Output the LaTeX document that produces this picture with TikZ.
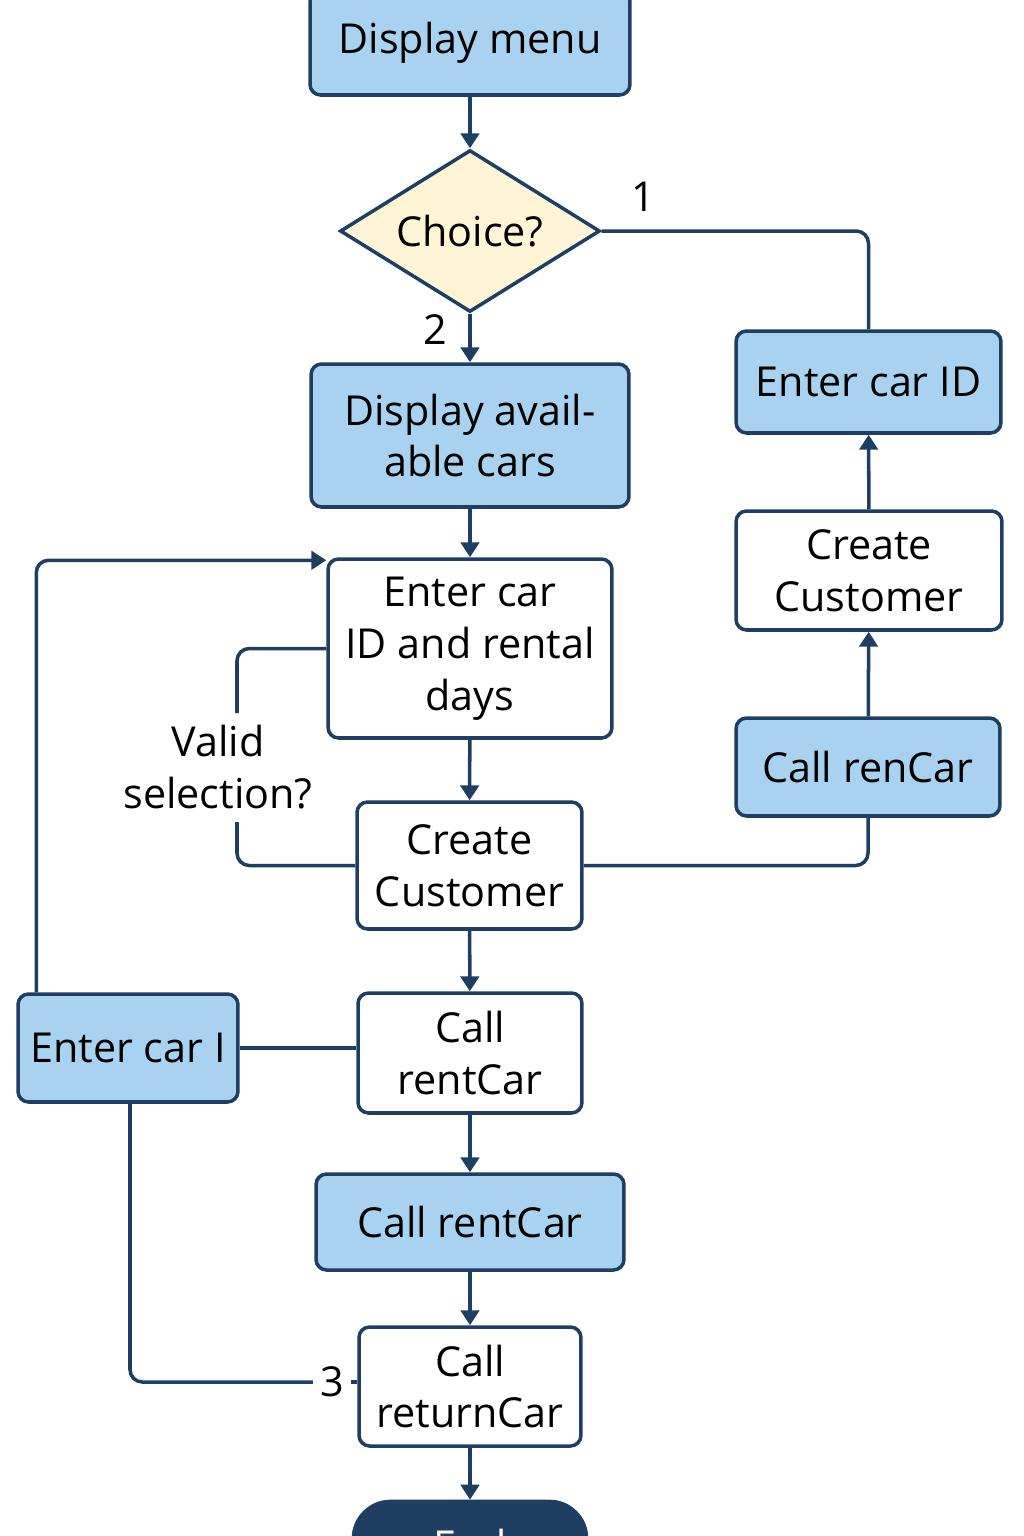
\documentclass[tikz,border=0pt]{standalone}
\usepackage{fontspec}
\setmainfont{Open Sans}
\usepackage{tikz}
\usepackage{xcolor}
\usetikzlibrary{calc,shapes.geometric,arrows.meta}

\definecolor{navy}{HTML}{1E3F62}
\definecolor{skyfill}{HTML}{A9D2F1}
\definecolor{cream}{HTML}{FFF5D6}

\begin{document}
\begin{tikzpicture}[x=0.02cm,y=-0.02cm]
        \tikzstyle{every node}=[font=\fontsize{23.5}{29.5}\selectfont, align=center, inner sep=0pt]
        \tikzstyle{box}=[draw=navy,line width=2pt,rounded corners=6pt,fill=white]
        \tikzstyle{bluebox}=[box,fill=skyfill]
        \tikzstyle{line}=[draw=navy,line width=2pt,rounded corners=7pt]
        \tikzstyle{arr}=[line,-{Triangle[length=8.5pt,width=10.5pt]}]
        \useasboundingbox (0,0) rectangle (1024,1536);

        \node[bluebox,minimum width=6.4cm,minimum height=2.08cm] (menu) at (470,43) {Display menu};
        \node[draw=navy,line width=2pt,fill=cream,diamond,aspect=1.6,minimum width=5.2cm,minimum height=3.24cm] (choice) at (470,231) {Choice?};
        \node[bluebox,minimum width=6.36cm,minimum height=2.86cm] (avail) at (470,435.5) {Display avail-\\able cars};
        \node[box,minimum width=5.68cm,minimum height=3.58cm] (rental) at (470,648.5) {Enter car\\ID and rental\\days};
        \node[box,minimum width=4.5cm,minimum height=2.54cm] (cust) at (469.5,865.5) {Create\\Customer};
        \node[box,minimum width=4.48cm,minimum height=2.4cm] (call1) at (470,1053) {Call\\rentCar};
        \node[bluebox,minimum width=6.16cm,minimum height=1.92cm] (call2) at (470,1222) {Call rentCar};
        \node[box,minimum width=4.44cm,minimum height=2.38cm] (ret) at (470,1386.5) {Call\\returnCar};
        \node[draw=navy,fill=navy,text=white,rounded corners=22pt,minimum width=4.72cm,minimum height=1.8cm] (end) at (470,1545) {End};

        \node[bluebox,minimum width=5.3cm,minimum height=2.04cm] (idR) at (868.5,382) {Enter car ID};
        \node[box,minimum width=5.32cm,minimum height=2.38cm] (custR) at (869,570.5) {Create\\Customer};
        \node[bluebox,minimum width=5.28cm,minimum height=1.96cm] (renR) at (868,767) {Call renCar};

        \node[bluebox,minimum width=4.4cm,minimum height=2.16cm] (idL) at (128,1048) {Enter car I};

        \node (one) at (643,197) {1};
        \node (two) at (435,330) {2};
        \node[inner sep=4pt] (three) at (332,1382) {3};
        \node (valid) at (218,767) {Valid\\selection?};
        \coordinate (v1) at (237,713);
        \coordinate (v2) at (237,822);

        \draw[arr] (menu) to (choice);
        \draw[arr] (choice) to (avail);
        \draw[arr] (avail) to (rental);
        \draw[arr] (rental) to (cust);
        \draw[arr] (cust) to (call1);
        \draw[arr] (call1) to (call2);
        \draw[arr] (call2) to (ret);
        \draw[arr] (ret) to (end);

        \draw[line] (choice.east) -| (idR.north);
        \draw[arr] (custR) to (idR);
        \draw[arr] (renR) to (custR);
        \draw[line] (renR.south) |- (cust.east);

        \draw[line] (rental.west) -| (v1);
        \draw[line] (v2) |- (cust.west);

        \draw[line] (idL.east) -- (idL.east -| call1.west);
        \draw[arr] ($(idL.north west)+(20,0)$) |- ($(rental.north west)+(0,3)$);
        \draw[line] ($(idL.south)+(2,0)$) |- (three.west);
        \draw[line] (three.east) -- (three.east -| ret.west);
    \end{tikzpicture}
\end{document}
